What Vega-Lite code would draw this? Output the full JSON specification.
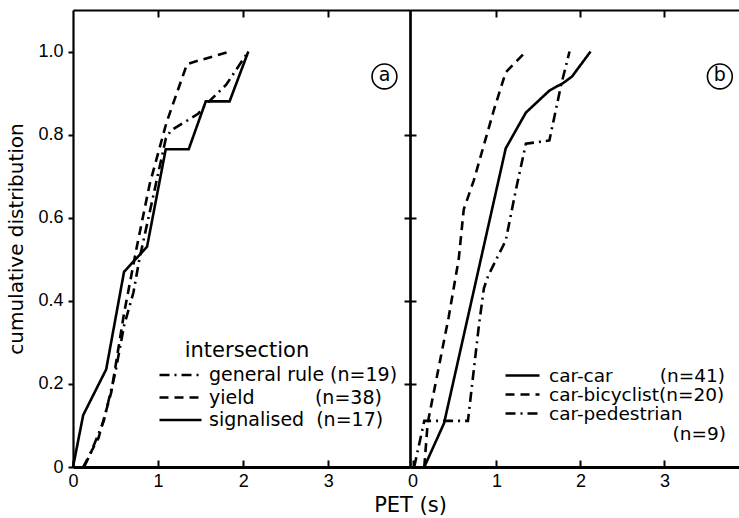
{
  "$schema": "https://vega.github.io/schema/vega-lite/v6.json",
  "padding": {"left": 6, "top": 9, "right": 0, "bottom": 0},
  "background": "white",
  "bounds": "flush",
  "spacing": 0,
  "config": {
    "view": {"stroke": null},
    "font": "DejaVu Sans",
    "axis": {"domainColor": "black", "tickColor": "black", "labelColor": "black", "titleColor": "black", "grid": false, "domainWidth": 2.2, "tickWidth": 2},
    "legend": {"labelColor": "black", "titleColor": "black", "labelLimit": 0}
  },
  "datasets": {
    "a": [
      {"series": "signalised", "pet": 0, "cum": 0},
      {"series": "signalised", "pet": 0.12, "cum": 0.125},
      {"series": "signalised", "pet": 0.39, "cum": 0.235},
      {"series": "signalised", "pet": 0.6, "cum": 0.47},
      {"series": "signalised", "pet": 0.87, "cum": 0.53},
      {"series": "signalised", "pet": 1.09, "cum": 0.765},
      {"series": "signalised", "pet": 1.36, "cum": 0.765},
      {"series": "signalised", "pet": 1.56, "cum": 0.88},
      {"series": "signalised", "pet": 1.84, "cum": 0.88},
      {"series": "signalised", "pet": 2.06, "cum": 1.0},
      {"series": "yield", "pet": 0.12, "cum": 0},
      {"series": "yield", "pet": 0.3, "cum": 0.07},
      {"series": "yield", "pet": 0.45, "cum": 0.18},
      {"series": "yield", "pet": 0.6, "cum": 0.37},
      {"series": "yield", "pet": 0.75, "cum": 0.53},
      {"series": "yield", "pet": 0.9, "cum": 0.68},
      {"series": "yield", "pet": 1.1, "cum": 0.83},
      {"series": "yield", "pet": 1.34, "cum": 0.97},
      {"series": "yield", "pet": 1.84, "cum": 1.0},
      {"series": "general rule", "pet": 0.13, "cum": 0},
      {"series": "general rule", "pet": 0.2, "cum": 0.03},
      {"series": "general rule", "pet": 0.36, "cum": 0.11},
      {"series": "general rule", "pet": 0.5, "cum": 0.23},
      {"series": "general rule", "pet": 0.6, "cum": 0.34},
      {"series": "general rule", "pet": 0.71, "cum": 0.42},
      {"series": "general rule", "pet": 0.78, "cum": 0.5},
      {"series": "general rule", "pet": 1.09, "cum": 0.79},
      {"series": "general rule", "pet": 1.15, "cum": 0.81},
      {"series": "general rule", "pet": 1.47, "cum": 0.85},
      {"series": "general rule", "pet": 1.55, "cum": 0.87},
      {"series": "general rule", "pet": 1.8, "cum": 0.92},
      {"series": "general rule", "pet": 2.06, "cum": 1.0}
    ],
    "b": [
      {"series": "car-car", "pet": 0.14, "cum": 0},
      {"series": "car-car", "pet": 0.375, "cum": 0.105},
      {"series": "car-car", "pet": 1.11, "cum": 0.767},
      {"series": "car-car", "pet": 1.35, "cum": 0.853},
      {"series": "car-car", "pet": 1.63, "cum": 0.906},
      {"series": "car-car", "pet": 1.8, "cum": 0.925},
      {"series": "car-car", "pet": 1.9, "cum": 0.94},
      {"series": "car-car", "pet": 2.12, "cum": 1.0},
      {"series": "car-bicyclist", "pet": 0.14, "cum": 0},
      {"series": "car-bicyclist", "pet": 0.18, "cum": 0.105},
      {"series": "car-bicyclist", "pet": 0.43, "cum": 0.36},
      {"series": "car-bicyclist", "pet": 0.55, "cum": 0.5},
      {"series": "car-bicyclist", "pet": 0.61, "cum": 0.62},
      {"series": "car-bicyclist", "pet": 0.73, "cum": 0.69},
      {"series": "car-bicyclist", "pet": 0.97, "cum": 0.86},
      {"series": "car-bicyclist", "pet": 1.11, "cum": 0.95},
      {"series": "car-bicyclist", "pet": 1.35, "cum": 1.0},
      {"series": "car-pedestrian", "pet": 0.02, "cum": 0},
      {"series": "car-pedestrian", "pet": 0.14, "cum": 0.111},
      {"series": "car-pedestrian", "pet": 0.66, "cum": 0.111},
      {"series": "car-pedestrian", "pet": 0.79, "cum": 0.34},
      {"series": "car-pedestrian", "pet": 0.85, "cum": 0.43},
      {"series": "car-pedestrian", "pet": 0.9, "cum": 0.46},
      {"series": "car-pedestrian", "pet": 1.11, "cum": 0.545},
      {"series": "car-pedestrian", "pet": 1.23, "cum": 0.666},
      {"series": "car-pedestrian", "pet": 1.35, "cum": 0.778},
      {"series": "car-pedestrian", "pet": 1.63, "cum": 0.786},
      {"series": "car-pedestrian", "pet": 1.77, "cum": 0.92},
      {"series": "car-pedestrian", "pet": 1.87, "cum": 1.0}
    ]
  },
  "hconcat": [
    {
      "width": 337,
      "height": 457,
      "layer": [
        {
          "data": {"name": "a"},
          "mark": {"type": "line", "color": "black", "strokeWidth": 2.6},
          "encoding": {
            "x": {"field": "pet", "type": "quantitative", "scale": {"domain": [0, 3.96], "nice": false, "zero": false},
              "axis": {"orient": "bottom", "values": [0, 1, 2, 3], "tickSize": -7, "labelPadding": 12, "labelFont": "Liberation Sans", "labelFontSize": 18, "labelFlush": false,
                "title": "PET (s)", "titleFont": "DejaVu Sans", "titleFontSize": 21, "titleFontWeight": "normal", "titleX": 337, "titleY": 44, "titleAlign": "center", "titleBaseline": "alphabetic", "domainWidth": 2.8}},
            "y": {"field": "cum", "type": "quantitative", "scale": {"domain": [0, 1.1], "nice": false},
              "axis": {"orient": "left", "values": [0, 0.2, 0.4, 0.6, 0.8, 1.0], "tickSize": 5, "labelPadding": 5, "labelFont": "Liberation Sans", "labelFontSize": 18,
                "labelExpr": "datum.value == 0 ? '0' : format(datum.value, '.1f')", "labelFlush": false,
                "title": "cumulative distribution", "titleFont": "DejaVu Sans", "titleFontSize": 20, "titleFontWeight": "normal", "titlePadding": 11}},
            "strokeDash": {"field": "series", "type": "nominal",
              "scale": {"domain": ["general rule", "yield", "signalised"], "range": [[10, 5, 2, 5], [9, 6], [1, 0]]},
              "legend": {"title": "\u200b\u00a0\u00a0\u00a0\u00a0intersection", "orient": "none", "legendX": 85, "legendY": 330, "symbolType": "stroke", "symbolSize": 1764, "symbolStrokeWidth": 2.6, "symbolStrokeColor": "black", "clipHeight": 20,
                "labelFont": "DejaVu Sans", "labelFontSize": 19, "labelOffset": 6, "rowPadding": 2.5, "titleFont": "DejaVu Sans", "titleFontSize": 21, "titleFontWeight": "normal", "titlePadding": 4, "titleAnchor": "start",
                "labelExpr": "datum.label == 'general rule' ? 'general rule\u00a0(n=19)' : datum.label == 'yield' ? 'yield\u00a0\u00a0\u00a0\u00a0\u00a0\u00a0\u00a0\u00a0\u00a0\u00a0(n=38)' : 'signalised\u00a0\u00a0(n=17)'"}}
          }
        },
        {
          "data": {"name": "a"},
          "mark": {"type": "point", "opacity": 0},
          "encoding": {
            "x": {"field": "pet", "type": "quantitative", "axis": {"orient": "top", "values": [1, 2, 3], "tickSize": -7, "labels": false, "title": null}},
            "y": {"field": "cum", "type": "quantitative", "axis": {"orient": "right", "values": [0.2, 0.4, 0.6, 0.8], "tickSize": 6, "labels": false, "title": null}}
          }
        },
        {
          "mark": {"type": "rule", "color": "black", "strokeWidth": 1.8},
          "encoding": {"y": {"datum": 1, "type": "quantitative", "axis": null}}
        },
        {
          "data": {"values": [{"pet": 3.66, "cum": 0.94, "label": "a"}]},
          "mark": {"type": "point", "shape": "circle", "size": 616, "filled": false, "color": "black", "strokeWidth": 1.6, "opacity": 1},
          "encoding": {"x": {"field": "pet", "type": "quantitative", "axis": null}, "y": {"field": "cum", "type": "quantitative", "axis": null}}
        },
        {
          "data": {"values": [{"pet": 3.66, "cum": 0.94, "label": "a"}]},
          "mark": {"type": "text", "font": "DejaVu Sans", "fontSize": 19, "color": "black", "baseline": "middle", "align": "center", "dy": -1},
          "encoding": {"x": {"field": "pet", "type": "quantitative", "axis": null}, "y": {"field": "cum", "type": "quantitative", "axis": null}, "text": {"field": "label"}}
        }
      ],
      "resolve": {"axis": {"x": "independent", "y": "independent"}}
    },
    {
      "width": 330,
      "height": 457,
      "layer": [
        {
          "data": {"name": "b"},
          "mark": {"type": "line", "color": "black", "strokeWidth": 2.6},
          "encoding": {
            "x": {"field": "pet", "type": "quantitative", "scale": {"domain": [-0.03, 3.9], "nice": false, "zero": false},
              "axis": {"orient": "bottom", "values": [0, 1, 2, 3], "tickSize": -7, "labelPadding": 12, "labelFont": "Liberation Sans", "labelFontSize": 18, "labelFlush": false, "title": null, "domainWidth": 2.8}},
            "y": {"field": "cum", "type": "quantitative", "scale": {"domain": [0, 1.1], "nice": false},
              "axis": {"orient": "left", "values": [0.2, 0.4, 0.6, 0.8], "tickSize": 6, "labels": false, "title": null}},
            "strokeDash": {"field": "series", "type": "nominal",
              "scale": {"domain": ["car-car", "car-bicyclist", "car-pedestrian"], "range": [[1, 0], [9, 6], [10, 5, 2, 5]]},
              "legend": {"title": null, "orient": "none", "legendX": 94, "legendY": 356, "symbolType": "stroke", "symbolSize": 1156, "symbolStrokeWidth": 2.6, "symbolStrokeColor": "black", "clipHeight": 19,
                "labelFont": "DejaVu Sans", "labelFontSize": 18.5, "labelOffset": 8, "rowPadding": 0, "labelBaseline": "middle",
                "labelExpr": "datum.label == 'car-car' ? 'car-car\u00a0\u00a0\u00a0\u00a0\u00a0\u00a0\u00a0\u00a0(n=41)' : datum.label == 'car-bicyclist' ? 'car-bicyclist(n=20)' : ['car-pedestrian', '\u200b\u00a0\u00a0\u00a0\u00a0\u00a0\u00a0\u00a0\u00a0\u00a0\u00a0\u00a0\u00a0\u00a0\u00a0\u00a0\u00a0\u00a0\u00a0\u00a0\u00a0\u00a0(n=9)']"}}
          }
        },
        {
          "data": {"name": "b"},
          "mark": {"type": "point", "opacity": 0},
          "encoding": {
            "x": {"field": "pet", "type": "quantitative", "axis": {"orient": "top", "values": [1, 2, 3], "tickSize": -7, "labels": false, "title": null}},
            "y": {"field": "cum", "type": "quantitative", "axis": null}
          }
        },
        {
          "mark": {"type": "rule", "color": "black", "strokeWidth": 1.8},
          "encoding": {"y": {"datum": 1, "type": "quantitative", "axis": null}}
        },
        {
          "data": {"values": [{"pet": 3.66, "cum": 0.94, "label": "b"}]},
          "mark": {"type": "point", "shape": "circle", "size": 616, "filled": false, "color": "black", "strokeWidth": 1.6, "opacity": 1},
          "encoding": {"x": {"field": "pet", "type": "quantitative", "axis": null}, "y": {"field": "cum", "type": "quantitative", "axis": null}}
        },
        {
          "data": {"values": [{"pet": 3.66, "cum": 0.94, "label": "b"}]},
          "mark": {"type": "text", "font": "DejaVu Sans", "fontSize": 19, "color": "black", "baseline": "middle", "align": "center", "dy": -1},
          "encoding": {"x": {"field": "pet", "type": "quantitative", "axis": null}, "y": {"field": "cum", "type": "quantitative", "axis": null}, "text": {"field": "label"}}
        }
      ],
      "resolve": {"axis": {"x": "independent", "y": "independent"}}
    }
  ],
  "resolve": {"scale": {"x": "independent", "y": "independent", "strokeDash": "independent"}, "legend": {"strokeDash": "independent"}}
}
